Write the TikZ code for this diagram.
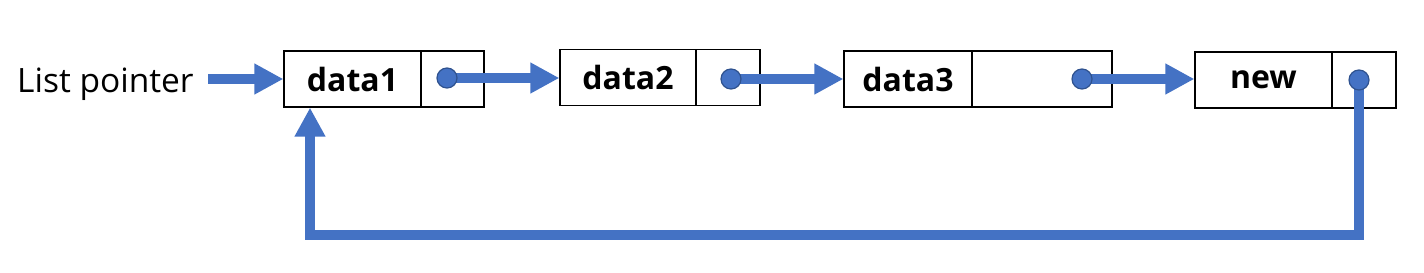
\documentclass[tikz,border=0pt]{standalone}
\usepackage{fontspec}
\setmainfont{Open Sans}
\usetikzlibrary{arrows.meta}
\definecolor{lblue}{HTML}{4472C4}
\definecolor{dblue}{HTML}{2F528F}
\pgfdeclarelayer{front}
\pgfsetlayers{main,front}
\begin{document}
\begin{tikzpicture}[x=1pt,y=-1pt,
  cell/.style={draw=black,line width=1.3pt,inner sep=0pt,minimum height=56pt,
    font=\fontsize{32}{38}\selectfont\bfseries},
  dot/.style={circle,fill=lblue,draw=dblue,line width=1.2pt,minimum size=20pt,inner sep=0pt},
  link/.style={draw=lblue,line width=10pt,line join=miter,
    -{Triangle[length=29pt,width=29pt]}},
]
\useasboundingbox (0,0) rectangle (1424,273);
% cells
\node[cell,minimum width=137pt] (d1) at (352.5,79) {data1};
\node[cell,minimum width=63pt]  (p1) at (452.5,79) {};
\node[cell,minimum width=136pt] (d2) at (628,77.5) {data2};
\node[cell,minimum width=64pt]  (p2) at (728,77.5) {};
\node[cell,minimum width=128pt] (d3) at (908,79) {data3};
\node[cell,minimum width=140pt] (p3) at (1042,79) {};
\node[cell,minimum width=137pt] (d4) at (1263.5,80) {new};
\node[cell,minimum width=64pt]  (p4) at (1364,80) {};
% label
\node[anchor=base west,inner sep=0pt,font=\fontsize{33.5}{40}\selectfont] (lp) at (17,92) {List pointer};
\coordinate (lpe) at (208,0);
% dots
\begin{pgfonlayer}{front}
\node[dot] (c1) at (447,78) {};
\node[dot] (c2) at (731,79) {};
\node[dot] (c3) at (1082,79) {};
\node[dot] (c4) at (1359,80) {};
\end{pgfonlayer}
% connectors
\draw[link] (lpe |- d1.west) -- (d1.west);
\draw[link] (c1.center) -- (c1.center -| d2.west);
\draw[link] (c2.center) -- (c2.center -| d3.west);
\draw[link] (c3.center) -- (c3.center -| d4.west);
\coordinate (fb) at (310,235);
\draw[link] (c4.center) -- (c4.center |- fb) -- (fb) -- (fb |- d1.south);
\end{tikzpicture}
\end{document}
